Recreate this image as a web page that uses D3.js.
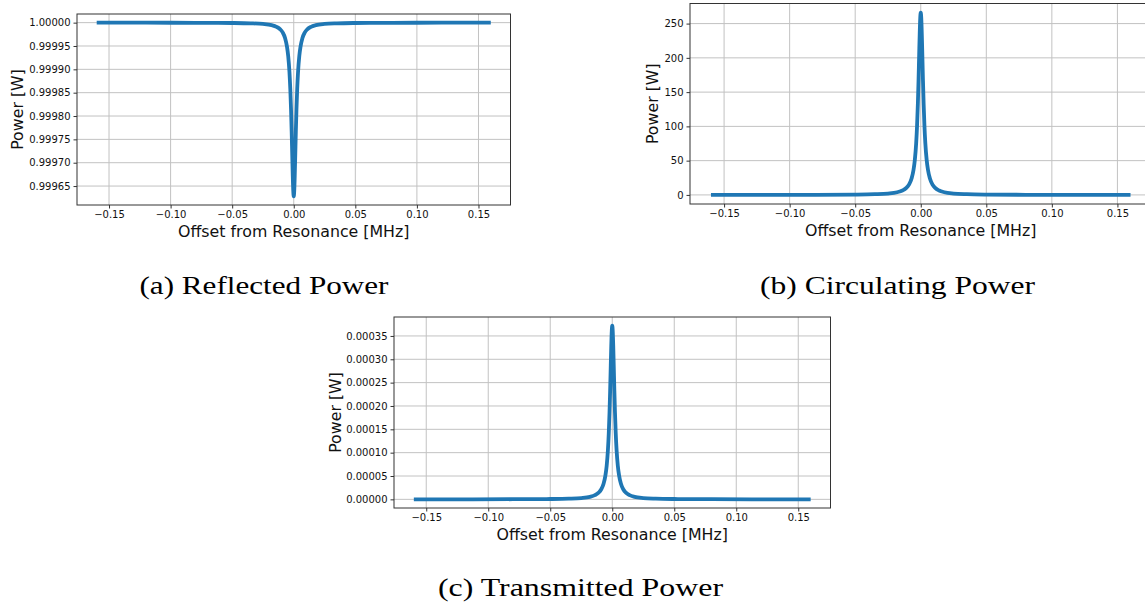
<!DOCTYPE html>
<html>
<head>
<meta charset="utf-8">
<script src="https://cdn.jsdelivr.net/npm/d3@7"></script>
<style>
  html, body { margin: 0; padding: 0; background: #fff; }
  svg { display: block; }
</style>
</head>
<body>
<svg id="chart" width="1145" height="603"></svg>
<script>
// ---------------- data ----------------
const offsetMHz = [
  -0.16, -0.12, -0.08, -0.05, -0.035, -0.025, -0.018, -0.014, -0.011, -0.009,
  -0.007, -0.0055, -0.0045, -0.0035, -0.0028, -0.0022, -0.0017, -0.0012, -0.0008, -0.0004,
  0,
  0.0004, 0.0008, 0.0012, 0.0017, 0.0022, 0.0028, 0.0035, 0.0045, 0.0055, 0.007,
  0.009, 0.011, 0.014, 0.018, 0.025, 0.035, 0.05, 0.08, 0.12, 0.16
];

const reflectedW = [
  0.99999993, 0.99999988, 0.99999972, 0.99999928, 0.99999853, 0.99999714, 0.99999452, 0.99999103, 0.99998568, 0.9999790,
  0.9999666, 0.9999487, 0.9999282, 0.9998947, 0.9998579, 0.9998140, 0.9997671, 0.9997132, 0.9996715, 0.9996399,
  0.9996280,
  0.9996399, 0.9996715, 0.9997132, 0.9997671, 0.9998140, 0.9998579, 0.9998947, 0.9999282, 0.9999487, 0.9999666,
  0.9999790, 0.99998568, 0.99999103, 0.99999452, 0.99999714, 0.99999853, 0.99999928, 0.99999972, 0.99999988, 0.99999993
];

const circulatingW = [
  0.05, 0.09, 0.20, 0.51, 1.05, 2.05, 3.92, 6.41, 10.24, 15.0,
  23.9, 36.7, 51.3, 75.3, 101.6, 133.0, 166.5, 205.1, 234.9, 257.5,
  266.0,
  257.5, 234.9, 205.1, 166.5, 133.0, 101.6, 75.3, 51.3, 36.7, 23.9,
  15.0, 10.24, 6.41, 3.92, 2.05, 1.05, 0.51, 0.20, 0.09, 0.05
];

const transmittedW = [
  7.0e-8, 1.25e-7, 2.81e-7, 7.18e-7, 1.466e-6, 2.86e-6, 5.48e-6, 8.97e-6, 1.432e-5, 2.10e-5,
  3.34e-5, 5.13e-5, 7.18e-5, 1.053e-4, 1.421e-4, 1.860e-4, 2.329e-4, 2.868e-4, 3.285e-4, 3.601e-4,
  3.720e-4,
  3.601e-4, 3.285e-4, 2.868e-4, 2.329e-4, 1.860e-4, 1.421e-4, 1.053e-4, 7.18e-5, 5.13e-5, 3.34e-5,
  2.10e-5, 1.432e-5, 8.97e-6, 5.48e-6, 2.86e-6, 1.466e-6, 7.18e-7, 2.81e-7, 1.25e-7, 7.0e-8
];

const xTickValues = [-0.15, -0.10, -0.05, 0.00, 0.05, 0.10, 0.15];
const reflectedTicks = [0.99965, 0.99970, 0.99975, 0.99980, 0.99985, 0.99990, 0.99995, 1.00000];
const circulatingTicks = [0, 50, 100, 150, 200, 250];
const transmittedTicks = [0, 0.00005, 0.00010, 0.00015, 0.00020, 0.00025, 0.00030, 0.00035];

const xAxisLabel = "Offset from Resonance [MHz]";
const yAxisLabel = "Power [W]";
const captions = ["(a) Reflected Power", "(b) Circulating Power", "(c) Transmitted Power"];

// ---------------- drawing ----------------
const svg = d3.select("#chart");
svg.append("rect").attr("width", 1145).attr("height", 603).attr("fill", "#fff");

const LINE = "#1f77b4";
const GRID = "#c2c2c2";
const SPINE = "#333";
const TEXT = "#111";
const SANS = "DejaVu Sans, sans-serif";

function drawPanel(cfg) {
  const g = svg.append("g");
  const xd = d3.extent(offsetMHz);
  const xp = (xd[1] - xd[0]) * 0.05;
  const x = d3.scaleLinear().domain([xd[0] - xp, xd[1] + xp]).range([cfg.left, cfg.right]);
  const yd = d3.extent(cfg.values);
  const yp = (yd[1] - yd[0]) * 0.05;
  const y = d3.scaleLinear().domain([yd[0] - yp, yd[1] + yp]).range([cfg.bottom, cfg.top]);

  // grid
  g.append("g").selectAll("line").data(xTickValues).join("line")
    .attr("x1", d => x(d)).attr("x2", d => x(d))
    .attr("y1", cfg.top).attr("y2", cfg.bottom)
    .attr("stroke", GRID).attr("stroke-width", 1);
  g.append("g").selectAll("line").data(cfg.ticks).join("line")
    .attr("x1", cfg.left).attr("x2", cfg.right)
    .attr("y1", d => y(d)).attr("y2", d => y(d))
    .attr("stroke", GRID).attr("stroke-width", 1);

  // curve
  const pts = offsetMHz.map((o, i) => [o, cfg.values[i]]);
  g.append("path").datum(pts)
    .attr("d", d3.line().x(d => x(d[0])).y(d => y(d[1])).curve(d3.curveMonotoneX))
    .attr("fill", "none").attr("stroke", LINE).attr("stroke-width", 3.8)
    .attr("stroke-linejoin", "round").attr("stroke-linecap", "butt");

  // axes
  const ax = g.append("g").attr("transform", `translate(0,${cfg.bottom})`)
    .call(d3.axisBottom(x).tickValues(xTickValues).tickFormat(d3.format(".2f"))
      .tickSize(3.5).tickPadding(2.5).tickSizeOuter(0));
  const ay = g.append("g").attr("transform", `translate(${cfg.left},0)`)
    .call(d3.axisLeft(y).tickValues(cfg.ticks).tickFormat(d3.format(cfg.fmt))
      .tickSize(3.5).tickPadding(3).tickSizeOuter(0));
  [ax, ay].forEach(a => {
    a.select(".domain").remove();
    a.selectAll("line").attr("stroke", SPINE).attr("stroke-width", 1);
    a.selectAll("text").attr("fill", TEXT).attr("font-family", SANS).attr("font-size", 10);
  });

  // spines
  g.append("rect")
    .attr("x", cfg.left).attr("y", cfg.top)
    .attr("width", cfg.right - cfg.left).attr("height", cfg.bottom - cfg.top)
    .attr("fill", "none").attr("stroke", SPINE).attr("stroke-width", 1);

  // axis labels
  g.append("text")
    .attr("x", (cfg.left + cfg.right) / 2).attr("y", cfg.bottom + 32)
    .attr("text-anchor", "middle").attr("font-family", SANS).attr("font-size", 15.8)
    .attr("fill", TEXT).text(xAxisLabel);
  g.append("text")
    .attr("transform", `translate(${cfg.left - cfg.ylabOff},${(cfg.top + cfg.bottom) / 2}) rotate(-90)`)
    .attr("text-anchor", "middle").attr("font-family", SANS).attr("font-size", 15.8)
    .attr("fill", TEXT).text(yAxisLabel);

  // caption
  svg.append("text")
    .attr("x", cfg.capX).attr("y", cfg.capY)
    .attr("text-anchor", "middle")
    .attr("font-family", "Liberation Serif, DejaVu Serif, serif")
    .attr("font-size", 26)
    .attr("textLength", cfg.capW).attr("lengthAdjust", "spacingAndGlyphs")
    .attr("fill", "#000").text(cfg.caption);
}

drawPanel({ left: 77, right: 510.5, top: 14, bottom: 205, values: reflectedW,
  ticks: reflectedTicks, fmt: ".5f", ylabOff: 54, caption: captions[0], capX: 264, capY: 294, capW: 249 });
drawPanel({ left: 690, right: 1151.5, top: 3.5, bottom: 204, values: circulatingW,
  ticks: circulatingTicks, fmt: "d", ylabOff: 32.5, caption: captions[1], capX: 897.5, capY: 294, capW: 275 });
drawPanel({ left: 394, right: 830.5, top: 317, bottom: 508, values: transmittedW,
  ticks: transmittedTicks, fmt: ".5f", ylabOff: 53, caption: captions[2], capX: 580.5, capY: 596, capW: 285 });
</script>
</body>
</html>
